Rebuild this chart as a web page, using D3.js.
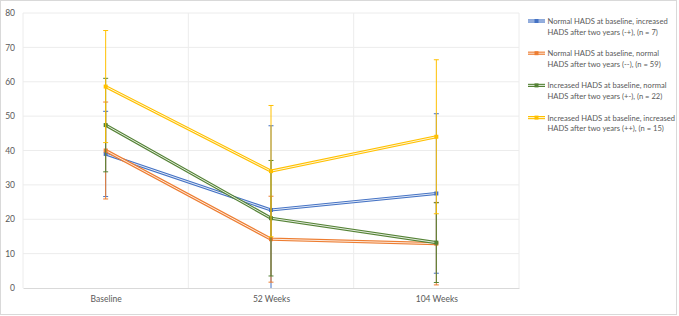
<!DOCTYPE html>
<html>
<head>
<meta charset="utf-8">
<script src="https://cdn.jsdelivr.net/npm/d3@7"></script>
<style>
  body { margin: 0; background: #fff; }
  text { font-family: Lato, "Open Sans", sans-serif; fill: #595959; }
</style>
</head>
<body>
<div id="chart"></div>
<script>
// categories and tick values
const categories = ["Baseline", "52 Weeks", "104 Weeks"];
const yTicks = [0, 10, 20, 30, 40, 50, 60, 70, 80];

// series names
const seriesNames = [
    ["Normal HADS at baseline, increased", "HADS after two years (-+), (n = 7)"],
    ["Normal HADS at baseline, normal", "HADS after two years (--), (n = 59)"],
    ["Increased HADS at baseline, normal", "HADS after two years (+-), (n = 22)"],
    ["Increased HADS at baseline, increased", "HADS after two years (++), (n = 15)"]
];
const seriesColors = ["#4472C4", "#ED7D31", "#548235", "#FFC000"];

// means and standard deviations
const meanBlue = [39.0, 22.7, 27.5];
const sdBlue = [12.4, 24.5, 23.2];
const meanOrange = [40.0, 14.2, 12.9];
const sdOrange = [14.1, 12.5, 12.0];
const meanGreen = [47.4, 20.3, 13.2];
const sdGreen = [13.6, 16.8, 11.6];
const meanYellow = [58.6, 34.0, 44.0];
const sdYellow = [16.3, 19.1, 22.4];

const means = [meanBlue, meanOrange, meanGreen, meanYellow];
const sds = [sdBlue, sdOrange, sdGreen, sdYellow];

const W = 679, H = 316;
const margin = {top: 13, right: 160, bottom: 28, left: 23};
const plotW = W - margin.left - margin.right;
const plotH = H - margin.top - margin.bottom;

const svg = d3.select("#chart").append("svg")
    .attr("width", W)
    .attr("height", H);

// outer frame
svg.append("rect")
    .attr("x", 0.5).attr("y", 0.5)
    .attr("width", W - 3).attr("height", H - 2)
    .attr("fill", "#fff")
    .attr("stroke", "#d9d9d9");

const g = svg.append("g")
    .attr("transform", `translate(${margin.left},${margin.top})`);

const xBand = d3.scaleBand().domain(categories).range([0, plotW]);
const x = d3.scalePoint().domain(categories).range([0, plotW]).padding(0.5);
const y = d3.scaleLinear().domain([0, 80]).range([plotH, 0]);

// horizontal gridlines
g.append("g")
    .selectAll("line")
    .data(yTicks.slice(1))
    .join("line")
    .attr("x1", 0).attr("x2", plotW)
    .attr("y1", d => y(d)).attr("y2", d => y(d))
    .attr("stroke", "#ececec");

// vertical gridlines between categories
g.append("g")
    .selectAll("line")
    .data(categories)
    .join("line")
    .attr("x1", d => xBand(d) + xBand.bandwidth()).attr("x2", d => xBand(d) + xBand.bandwidth())
    .attr("y1", 0).attr("y2", plotH)
    .attr("stroke", "#ececec");

// left axis line
g.append("line")
    .attr("x1", 0).attr("x2", 0)
    .attr("y1", 0).attr("y2", plotH)
    .attr("stroke", "#ececec");

// y axis
const yAxis = d3.axisLeft(y).tickValues(yTicks).tickSize(0).tickPadding(8);
g.append("g")
    .attr("class", "y-axis")
    .call(yAxis)
    .call(a => a.select(".domain").remove())
    .selectAll("text")
    .style("font-size", "8.5px");

// x axis
const xAxis = d3.axisBottom(x).tickSize(0).tickPadding(8);
g.append("g")
    .attr("class", "x-axis")
    .attr("transform", `translate(0,${plotH})`)
    .call(xAxis)
    .call(a => a.select(".domain").attr("stroke", "#d9d9d9"))
    .selectAll("text")
    .style("font-size", "8.5px");

// series: error bars, then double line, then markers
means.forEach((m, i) => {
    const color = seriesColors[i];
    const pts = categories.map((c, j) => ({c: c, v: m[j], sd: sds[i][j]}));
    const sg = g.append("g").attr("class", "series-" + i);

    const eb = sg.append("g").selectAll("g")
        .data(pts)
        .join("g");
    eb.append("line")
        .attr("x1", d => x(d.c)).attr("x2", d => x(d.c))
        .attr("y1", d => y(Math.min(80, d.v + d.sd)))
        .attr("y2", d => y(Math.max(0, d.v - d.sd)))
        .attr("stroke", color).attr("stroke-width", 1);
    eb.append("line")
        .attr("x1", d => x(d.c) - 2.5).attr("x2", d => x(d.c) + 2.5)
        .attr("y1", d => y(d.v + d.sd)).attr("y2", d => y(d.v + d.sd))
        .attr("stroke", color).attr("stroke-width", 1);
    eb.filter(d => d.v - d.sd >= 0).append("line")
        .attr("x1", d => x(d.c) - 2.5).attr("x2", d => x(d.c) + 2.5)
        .attr("y1", d => y(d.v - d.sd)).attr("y2", d => y(d.v - d.sd))
        .attr("stroke", color).attr("stroke-width", 1);

    const line = d3.line().x(d => x(d.c)).y(d => y(d.v));
    sg.append("path").datum(pts)
        .attr("d", line)
        .attr("fill", "none")
        .attr("stroke", color).attr("stroke-width", 3.2);
    sg.append("path").datum(pts)
        .attr("d", line)
        .attr("fill", "none")
        .attr("stroke", "#fff").attr("stroke-width", 1)
        .attr("stroke-opacity", 0.85);

    sg.append("g").selectAll("rect")
        .data(pts)
        .join("rect")
        .attr("x", d => x(d.c) - 2).attr("y", d => y(d.v) - 2)
        .attr("width", 4).attr("height", 4)
        .attr("fill", color);
});

// legend
const legend = svg.append("g")
    .attr("transform", "translate(528,21)");

const item = legend.selectAll("g")
    .data(seriesNames)
    .join("g")
    .attr("transform", (d, i) => `translate(0,${i * 32.2})`);

item.append("line")
    .attr("x1", 0).attr("x2", 17).attr("y1", 0).attr("y2", 0)
    .attr("stroke", (d, i) => seriesColors[i]).attr("stroke-width", 3.2);
item.append("line")
    .attr("x1", 0).attr("x2", 17).attr("y1", 0).attr("y2", 0)
    .attr("stroke", "#fff").attr("stroke-width", 1).attr("stroke-opacity", 0.85);
item.append("rect")
    .attr("x", 6.5).attr("y", -2).attr("width", 4).attr("height", 4)
    .attr("fill", (d, i) => seriesColors[i]);

item.append("text")
    .attr("x", 19.5)
    .attr("y", 3)
    .style("font-size", "7.6px")
    .selectAll("tspan")
    .data(d => d)
    .join("tspan")
    .attr("x", 19.5)
    .attr("dy", (d, j) => j === 0 ? 0 : 10.8)
    .text(d => d);
</script>
</body>
</html>
